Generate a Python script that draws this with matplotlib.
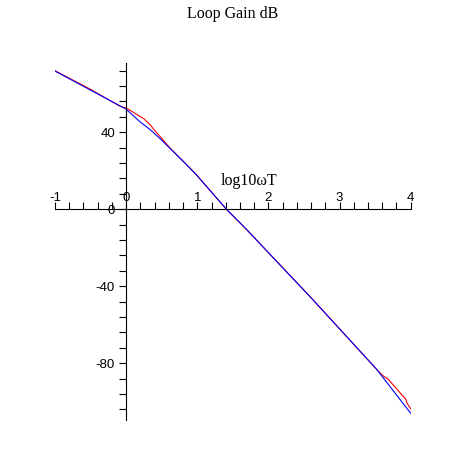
import matplotlib
matplotlib.use('Agg')
import matplotlib.pyplot as plt
from matplotlib.ticker import MultipleLocator

plt.rcParams['axes.unicode_minus'] = False

# log10(omega T) vs loop gain (dB)
blue_x = [-1, -0.5, 0, 0.2, 0.34, 0.48, 0.62, 0.83, 0.99, 1.41, 1.69, 2.62, 3.52, 4.0]
blue_y = [71.8, 61.9, 52.0, 45.3, 41.3, 36.6, 31.5, 23.9, 17.8, 0.0, -10.4, -46.8, -83.1, -106.0]

red_x = [-1, -0.5, -0.09, 0, 0.06, 0.2, 0.25, 0.34, 0.41, 0.48, 0.62, 0.83, 0.99,
         1.41, 1.69, 2.62, 3.52, 3.6, 3.69, 3.93, 3.95, 4.0]
red_y = [72.0, 62.3, 53.6, 52.6, 51.3, 48.1, 47.0, 43.8, 40.5, 37.7, 31.7, 23.9, 17.8,
         0.0, -10.4, -46.8, -83.1, -86.2, -88.6, -98.7, -100.8, -103.7]

title = "Loop Gain dB"
xlabel = "log10\u03c9T"

fig = plt.figure(figsize=(4.66, 4.66), dpi=100)
ax = fig.add_axes([55 / 466, 1 - 420 / 466, (410.7 - 55) / 466, (420 - 63) / 466])

ax.plot(red_x, red_y, color='red', lw=0.8)
ax.plot(blue_x, blue_y, color='blue', lw=0.8)

ax.set_xlim(-1, 4)
ax.set_ylim(-109.5, 76)

# axes through the origin, Maple style
ax.spines['bottom'].set_visible(False)
ax.spines['right'].set_visible(False)
ax.spines['top'].set_position(('data', 0))
ax.spines['left'].set_position(('data', 0))
for s in ('top', 'left'):
    ax.spines[s].set_linewidth(0.8)
ax.xaxis.set_ticks_position('top')
ax.yaxis.set_ticks_position('left')

ax.xaxis.set_major_locator(MultipleLocator(1))
ax.xaxis.set_minor_locator(MultipleLocator(0.2))
ax.set_yticks([-80, -40, 0, 40])
ax.yaxis.set_minor_locator(MultipleLocator(8))
ax.tick_params(which='both', length=5, width=0.8, direction='out', labelsize=9.5)
ax.tick_params(axis='x', pad=-1)
ax.tick_params(axis='y', pad=3)
for lab in ax.get_xticklabels() + ax.get_yticklabels():
    lab.set_family('Liberation Sans')

ax.text(1.72, 14.7, xlabel, ha='center', va='center', fontsize=11.5,
        family='Liberation Serif')
fig.text(0.5, 1 - 14 / 466, title, ha='center', va='center', fontsize=11.5,
         family='Liberation Serif')

plt.savefig('out.png', dpi=100)
